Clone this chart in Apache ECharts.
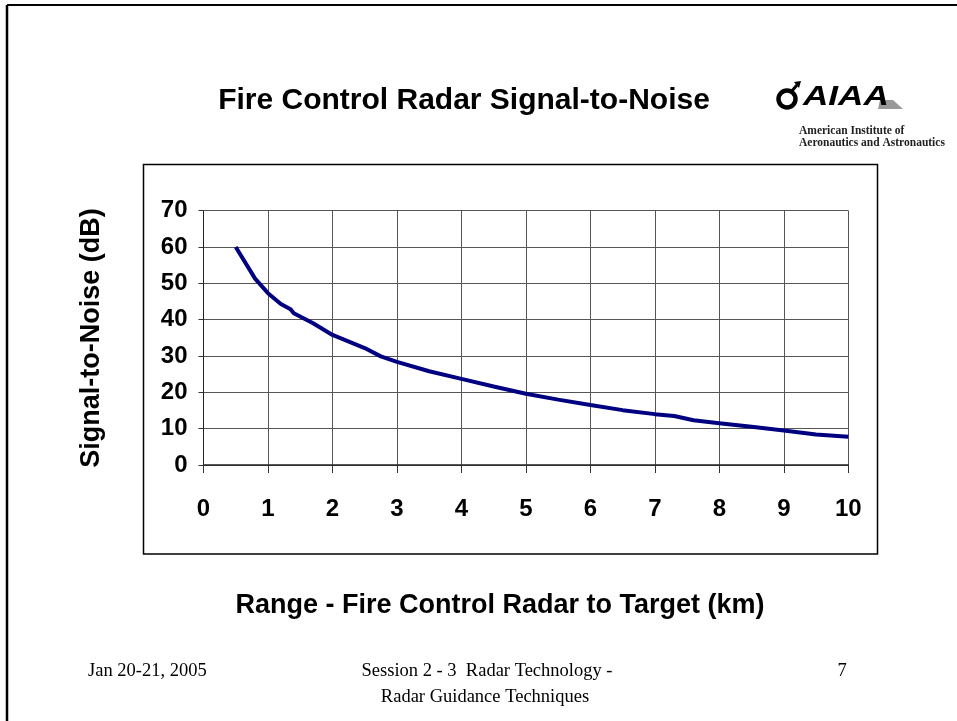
<!DOCTYPE html>
<html>
<head>
<meta charset="utf-8">
<script src="https://cdn.jsdelivr.net/npm/echarts@6/dist/echarts.min.js"></script>
<style>
html,body{margin:0;padding:0;background:#fff;}
#chart{width:957px;height:721px;}
</style>
</head>
<body>
<div id="chart"></div>
<script>
// Data
const rangeKm = [0.5, 0.8, 1.0, 1.2, 1.35, 1.4, 1.7, 2.0, 2.5, 2.75, 3, 3.5, 4, 4.5, 5, 5.5, 6, 6.5, 7, 7.3, 7.6, 8, 8.5, 9, 9.5, 10];
const snrDb   = [60, 51.3, 47.3, 44.3, 42.9, 41.8, 39, 35.8, 32.2, 29.9, 28.4, 25.8, 23.7, 21.6, 19.6, 18, 16.5, 15.1, 14.0, 13.5, 12.3, 11.5, 10.5, 9.5, 8.4, 7.8];
const xTicks = [0, 1, 2, 3, 4, 5, 6, 7, 8, 9, 10];
const yTicks = [0, 10, 20, 30, 40, 50, 60, 70];

const titleText = 'Fire Control Radar Signal-to-Noise';
const xTitle = 'Range - Fire Control Radar to Target (km)';
const yTitle = 'Signal-to-Noise (dB)';

const chart = echarts.init(document.getElementById('chart'), null, {renderer: 'canvas'});
const sans = '"Liberation Sans", Arial, sans-serif';
const serif = '"Liberation Serif", "Times New Roman", serif';

const option = {
  backgroundColor: '#fff',
  animation: false,
  grid: {left: 203.5, top: 210.7, width: 644.8, height: 254.3, containLabel: false},
  xAxis: {
    type: 'value', min: xTicks[0], max: xTicks[xTicks.length - 1], interval: 1,
    axisLine: {show: true, onZero: false, lineStyle: {color: '#222', width: 1.5}},
    axisTick: {show: true, inside: false, length: 8, lineStyle: {color: '#333', width: 1}},
    splitLine: {show: true, lineStyle: {color: '#555', width: 1}},
    axisLabel: {margin: 32, fontFamily: sans, fontWeight: 'bold', fontSize: 24, color: '#000'}
  },
  yAxis: {
    type: 'value', min: yTicks[0], max: yTicks[yTicks.length - 1], interval: 10,
    axisLine: {show: true, lineStyle: {color: '#222', width: 1}},
    axisTick: {show: true, inside: false, length: 5, lineStyle: {color: '#333', width: 1}},
    splitLine: {show: true, lineStyle: {color: '#555', width: 1}},
    axisLabel: {margin: 16, fontFamily: sans, fontWeight: 'bold', fontSize: 24, color: '#000'}
  },
  series: [{
    type: 'line',
    data: rangeKm.map((x, i) => [x, snrDb[i]]),
    showSymbol: false,
    smooth: false,
    lineStyle: {color: '#000080', width: 4},
    z: 5
  }],
  graphic: [
    // slide border (top and left visible)
    {type: 'line', shape: {x1: 7, y1: 5, x2: 957, y2: 5}, style: {stroke: '#000', lineWidth: 2}, silent: true},
    {type: 'line', shape: {x1: 7, y1: 5, x2: 7, y2: 721}, style: {stroke: '#000', lineWidth: 2.5}, silent: true},
    // chart frame
    {type: 'rect', shape: {x: 143.5, y: 164.5, width: 734, height: 389.5}, style: {fill: 'none', stroke: '#000', lineWidth: 1.5}, silent: true, z: -1},
    // title
    {type: 'text', x: 464, y: 101, style: {text: titleText, font: 'bold 30px ' + sans, fill: '#000', textAlign: 'center', textVerticalAlign: 'middle'}},
    // axis titles
    {type: 'text', x: 500, y: 606, style: {text: xTitle, font: 'bold 27px ' + sans, fill: '#000', textAlign: 'center', textVerticalAlign: 'middle'}},
    {type: 'text', x: 92, y: 338, rotation: Math.PI / 2, style: {text: yTitle, font: 'bold 27px ' + sans, fill: '#000', textAlign: 'center', textVerticalAlign: 'middle'}},
    // AIAA logo
    {type: 'circle', shape: {cx: 787, cy: 99, r: 8.5}, style: {fill: 'none', stroke: '#000', lineWidth: 4.5}},
    {type: 'line', shape: {x1: 791, y1: 92, x2: 797, y2: 85}, style: {stroke: '#000', lineWidth: 3}},
    {type: 'polygon', shape: {points: [[794, 82], [801, 81], [799, 88]]}, style: {fill: '#000'}},
    {type: 'polygon', shape: {points: [[880, 100], [893, 100], [903, 109], [878, 109]]}, style: {fill: '#999'}},
    {type: 'text', x: 803, y: 98, scaleX: 1.3, style: {text: 'AIAA', font: 'italic bold 27px ' + sans, fill: '#000', textAlign: 'left', textVerticalAlign: 'middle'}},
    {type: 'text', x: 799, y: 131, style: {text: 'American Institute of', font: 'bold 11.5px ' + serif, fill: '#222', textAlign: 'left', textVerticalAlign: 'middle'}},
    {type: 'text', x: 799, y: 143, style: {text: 'Aeronautics and Astronautics', font: 'bold 11.5px ' + serif, fill: '#222', textAlign: 'left', textVerticalAlign: 'middle'}},
    // footer
    {type: 'text', x: 88, y: 671, style: {text: 'Jan 20-21, 2005', font: '18.5px ' + serif, fill: '#000', textAlign: 'left', textVerticalAlign: 'middle'}},
    {type: 'text', x: 487, y: 671, style: {text: 'Session 2 - 3  Radar Technology -', font: '18.5px ' + serif, fill: '#000', textAlign: 'center', textVerticalAlign: 'middle'}},
    {type: 'text', x: 485, y: 697, style: {text: 'Radar Guidance Techniques', font: '18.5px ' + serif, fill: '#000', textAlign: 'center', textVerticalAlign: 'middle'}},
    {type: 'text', x: 842, y: 671, style: {text: '7', font: '18.5px ' + serif, fill: '#000', textAlign: 'center', textVerticalAlign: 'middle'}}
  ]
};
chart.setOption(option);
</script>
</body>
</html>
